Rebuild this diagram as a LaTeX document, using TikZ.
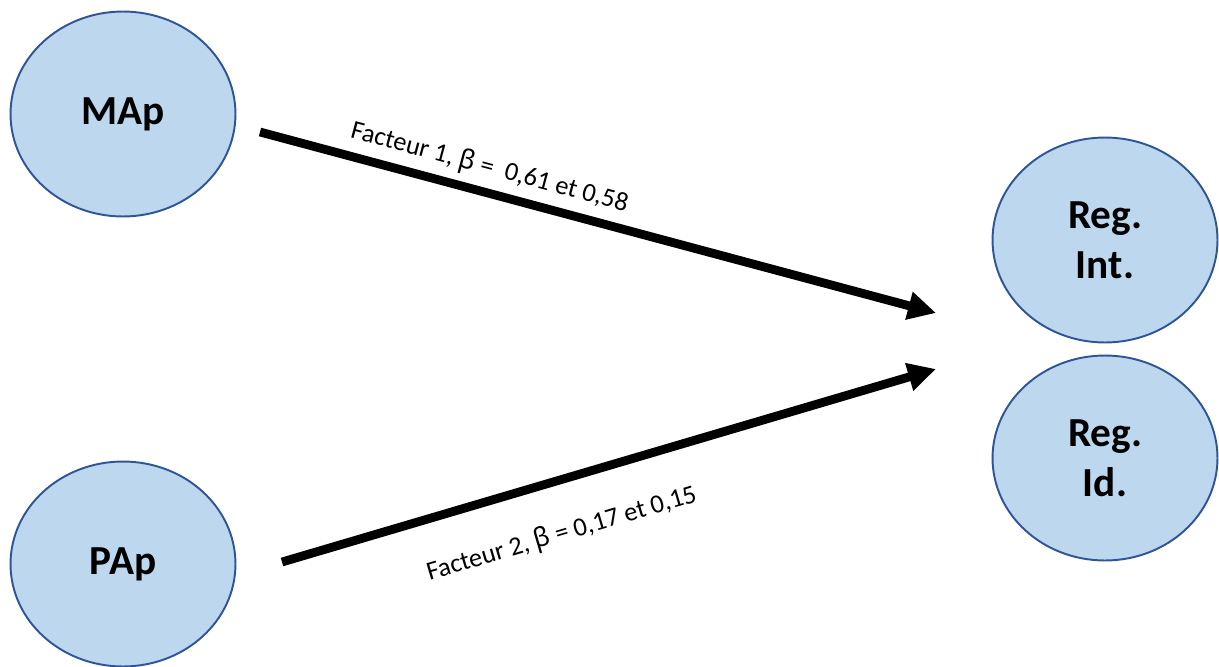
\documentclass[tikz,border=0pt]{standalone}
\usepackage{fontspec}
\setmainfont{Carlito}
\newfontfamily\greekfont{Noto Sans}
\usetikzlibrary{arrows.meta,shapes.geometric}

\definecolor{bubblefill}{HTML}{BDD7EE}
\definecolor{bubbleline}{HTML}{2F5597}

\newcommand{\betasym}{{\greekfont β}}

\tikzset{
  bubble/.style={ellipse,draw=bubbleline,line width=1.1pt,fill=bubblefill,
    minimum width=4.5cm,minimum height=4.1cm,inner sep=0pt,align=center,
    font=\fontsize{23.5}{28.5}\selectfont\bfseries},
  effect/.style={line width=5pt,-{Triangle[length=5.6mm,width=5.4mm]}},
  coef/.style={sloped,font=\fontsize{15}{17}\selectfont,inner sep=0pt}
}

\begin{document}
\begin{tikzpicture}[x=0.02cm,y=-0.02cm]
  \useasboundingbox (0,0) rectangle (1219,666);

  % Variables.
  \node[bubble] (MAp) at (123,114) {MAp};
  \node[bubble] (PAp) at (123,564) {PAp};
  \node[bubble] (RegInt) at (1105,240) {Reg.\\Int.};
  \node[bubble] (RegId) at (1105,458) {Reg.\\Id.};

  % Extrémités des flèches.
  \coordinate (mapout) at (260,132);
  \coordinate (papout) at (282,562);
  \coordinate (intin) at (936,313);
  \coordinate (idin) at (936,369);

  \draw[effect] (mapout) -- node[coef,above,pos=0.33,yshift=0.14cm] {Facteur 1, \betasym{} =\ \ 0,61 et 0,58} (intin);
  \draw[effect] (papout) -- node[coef,below,pos=0.405,yshift=-0.7cm] {Facteur 2, \betasym{} = 0,17 et 0,15} (idin);
\end{tikzpicture}
\end{document}
